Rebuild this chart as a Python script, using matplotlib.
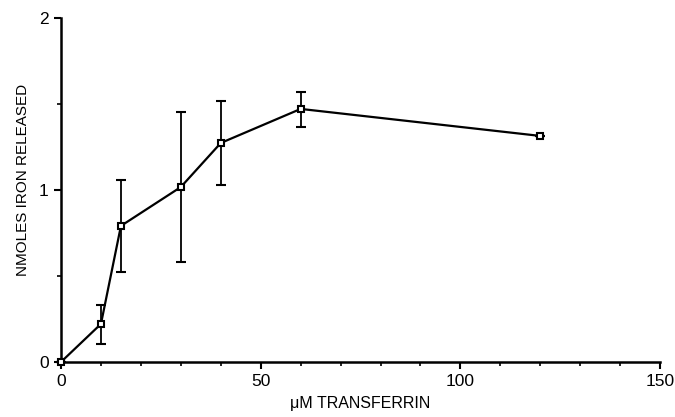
import matplotlib.pyplot as plt
import numpy as np

# uM transferrin vs nmoles iron released
conc = [0, 10, 15, 30, 40, 60, 120]
iron = [0.0, 0.221, 0.791, 1.017, 1.273, 1.471, 1.314]
err_hi = [0.0, 0.11, 0.267, 0.436, 0.244, 0.099, 0.0]
err_lo = [0.0, 0.116, 0.268, 0.436, 0.244, 0.105, 0.0]

plt.rcParams['font.family'] = ['Liberation Sans', 'DejaVu Sans']

fig = plt.figure(figsize=(6.75, 4.17), dpi=100)
ax = fig.add_axes([0.0904, 0.132, 0.8876, 0.825])

ax.errorbar(conc, iron, yerr=[err_lo, err_hi], color='black', lw=1.6,
            elinewidth=1.3, capsize=3.5, capthick=1.5,
            marker='s', markersize=5, markerfacecolor='white',
            markeredgecolor='black', markeredgewidth=1.5, clip_on=False,
            zorder=3)

ax.set_xlim(0, 150)
ax.set_ylim(0, 2)
ax.set_xticks([0, 50, 100, 150])
ax.set_xticks(np.arange(0, 151, 10), minor=True)
ax.set_yticks([0, 1, 2])
ax.set_yticks([0.5, 1.5], minor=True)
ax.set_yticklabels(['0', '1', '2'])

for s in ['top', 'right']:
    ax.spines[s].set_visible(False)
for s in ['left', 'bottom']:
    ax.spines[s].set_linewidth(1.8)

ax.tick_params(which='major', length=5, width=1.5, labelsize=12.5, pad=4)
ax.tick_params(which='minor', length=3, width=1.2)

ax.set_xlabel('μM TRANSFERRIN', fontsize=11.5, labelpad=5)
ax.set_ylabel('NMOLES IRON RELEASED', fontsize=11)
ax.yaxis.set_label_coords(-0.052, 0.53)

fig.savefig('out.png', dpi=100)
